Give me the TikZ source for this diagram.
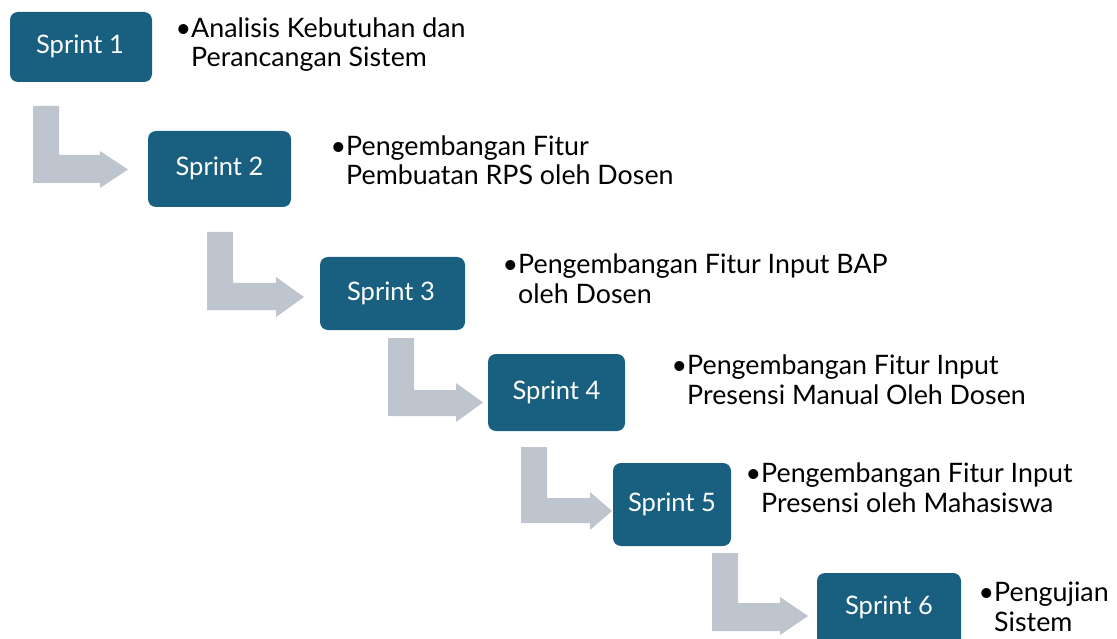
\documentclass[tikz,border=0pt]{standalone}
\usepackage{fontspec}
\setmainfont{Lato}
\definecolor{boxblue}{RGB}{24,95,128}
\definecolor{arrowgray}{RGB}{190,197,206}
\newcommand{\bentarrow}[8]{%
  \fill[arrowgray] (#1,#2) -- ({#1+26},#2) -- ({#1+26},#3) -- (#5,#3) -- (#5,#7)
    -- (#6,{(#7+#8)/2}) -- (#5,#8) -- (#5,#4) -- (#1,#4) -- cycle;}
\tikzset{
  sprinttext/.style={text=white, font=\fontsize{25.5}{30}\selectfont},
  desc/.style={anchor=base west, align=left, inner sep=0pt, font=\fontsize{26.8}{29.5}\selectfont, text=black}
}
\begin{document}
\begin{tikzpicture}[x=1pt,y=-1pt]
\useasboundingbox (0,0) rectangle (1117,639);
% arrows
\bentarrow{33}{106}{155}{183}{100}{128}{151}{188}
\bentarrow{207}{232}{283}{310}{276}{304}{277}{317}
\bentarrow{388}{338}{390}{416}{456}{483}{383}{422}
\bentarrow{521}{447}{498}{523}{590}{612}{492}{530}
\bentarrow{712}{553}{603}{631}{780}{808}{597}{635}
% boxes
\fill[boxblue, rounded corners=8pt] (10,12) rectangle (152,82);
\node[sprinttext] (s1) at (80,46) {Sprint 1};
\fill[boxblue, rounded corners=8pt] (148,131) rectangle (291,207);
\node[sprinttext] (s2) at (219.5,168) {Sprint 2};
\fill[boxblue, rounded corners=8pt] (320,257) rectangle (465,330);
\node[sprinttext] (s3) at (391,293) {Sprint 3};
\fill[boxblue, rounded corners=8pt] (488,354) rectangle (625,431);
\node[sprinttext] (s4) at (556.5,392) {Sprint 4};
\fill[boxblue, rounded corners=8pt] (613,463) rectangle (731,546);
\node[sprinttext] (s5) at (672,504) {Sprint 5};
\fill[boxblue, rounded corners=8pt] (817,573) rectangle (961,650);
\node[sprinttext] (s6) at (889,607) {Sprint 6};
% descriptions
\node[desc] (d1) at (191,67) {\llap{\textbullet}Analisis Kebutuhan dan\\Perancangan Sistem};
\node[desc] (d2) at (346,185) {\llap{\textbullet}Pengembangan Fitur\\Pembuatan RPS oleh Dosen};
\node[desc] (d3) at (518,303) {\llap{\textbullet}Pengembangan Fitur Input BAP\\oleh Dosen};
\node[desc] (d4) at (687,404) {\llap{\textbullet}Pengembangan Fitur Input\\Presensi Manual Oleh Dosen};
\node[desc] (d5) at (761,512) {\llap{\textbullet}Pengembangan Fitur Input\\Presensi oleh Mahasiswa};
\node[desc] (d6) at (994,631) {\llap{\textbullet}Pengujian\\Sistem};
\end{tikzpicture}
\end{document}
